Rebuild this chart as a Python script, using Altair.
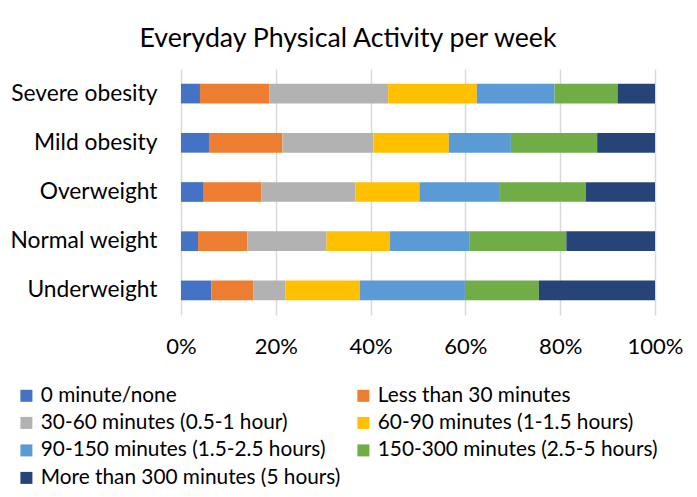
import altair as alt
import pandas as pd

categories = ["Severe obesity", "Mild obesity", "Overweight", "Normal weight", "Underweight"]
series = [
    "0 minute/none",
    "Less than 30 minutes",
    "30-60 minutes (0.5-1 hour)",
    "60-90 minutes (1-1.5 hours)",
    "90-150 minutes (1.5-2.5 hours)",
    "150-300 minutes (2.5-5 hours)",
    "More than 300 minutes (5 hours)",
]
colors = ["#4472C4", "#ED7D31", "#B2B2B2", "#FFC000", "#5B9BD5", "#70AD47", "#264478"]

severe_obesity = [4.0, 14.6, 25.1, 18.7, 16.4, 13.3, 7.9]
mild_obesity = [5.9, 15.5, 19.2, 15.9, 13.1, 18.2, 12.2]
overweight = [4.8, 12.2, 19.8, 13.5, 16.8, 18.3, 14.6]
normal_weight = [3.6, 10.4, 16.7, 13.4, 16.7, 20.5, 18.7]
underweight = [6.4, 8.9, 6.7, 15.7, 22.2, 15.6, 24.5]

values = [severe_obesity, mild_obesity, overweight, normal_weight, underweight]

rows = []
for cat, vals in zip(categories, values):
    for i, (s, v) in enumerate(zip(series, vals)):
        rows.append({"category": cat, "series": s, "value": v, "order": i})
df = pd.DataFrame(rows)

FONT = "Lato"

chart = alt.Chart(df).mark_bar(height=19.7).encode(
    x=alt.X(
        "value:Q",
        stack="normalize",
        axis=alt.Axis(
            format="%",
            values=[0, 0.2, 0.4, 0.6, 0.8, 1.0],
            grid=True,
            gridColor="#D9D9D9",
            gridWidth=1.5,
            domain=False,
            ticks=False,
            labelFlush=False,
            labelFontSize=22,
            labelColor="#000000",
            labelFont=FONT,
            labelPadding=21,
            title=None,
        ),
        scale=alt.Scale(domain=[0, 1], nice=False),
    ),
    y=alt.Y(
        "category:N",
        sort=categories,
        axis=alt.Axis(
            domain=False,
            ticks=False,
            grid=False,
            labelFontSize=22.8,
            labelColor="#000000",
            labelFont=FONT,
            labelPadding=24,
            title=None,
        ),
    ),
    color=alt.Color(
        "series:N",
        sort=series,
        scale=alt.Scale(domain=series, range=colors),
        legend=alt.Legend(
            orient="none",
            legendX=-165,
            legendY=316,
            columns=2,
            columnPadding=12,
            rowPadding=5.5,
            symbolType="square",
            symbolSize=144,
            symbolStrokeWidth=0,
            labelFontSize=20.8,
            labelFont=FONT,
            labelColor="#000000",
            labelOffset=4,
            labelLimit=400,
            title=None,
            direction="horizontal",
        ),
    ),
    order=alt.Order("order:Q", sort="ascending"),
).properties(
    width=474,
    height=246,
    title=alt.Title(
        "Everyday Physical Activity per week",
        fontSize=26.7,
        font=FONT,
        fontWeight="normal",
        color="#000000",
        dx=-70,
        offset=16,
    ),
    autosize=alt.AutoSizeParams(type="none"),
    padding={"left": 173, "top": 61, "right": 34, "bottom": 174},
).configure_view(stroke=None).configure_axis(
    labelFontWeight="normal"
)

chart.save("out.html", embed_options={"renderer": "svg", "actions": False})
